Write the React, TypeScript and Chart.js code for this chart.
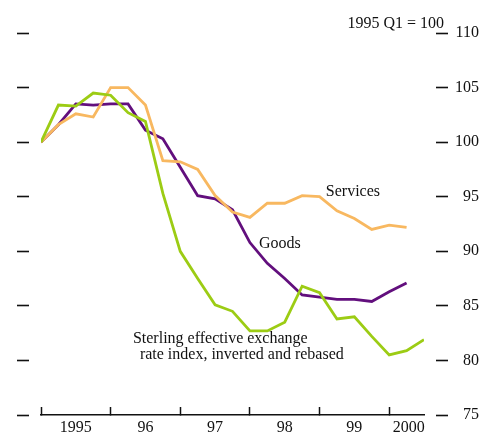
import React, { useEffect, useRef } from "react";
import { Chart, registerables } from "chart.js";

Chart.register(...registerables);

const quarters = [
  "1995 Q1", "1995 Q2", "1995 Q3", "1995 Q4",
  "1996 Q1", "1996 Q2", "1996 Q3", "1996 Q4",
  "1997 Q1", "1997 Q2", "1997 Q3", "1997 Q4",
  "1998 Q1", "1998 Q2", "1998 Q3", "1998 Q4",
  "1999 Q1", "1999 Q2", "1999 Q3", "1999 Q4",
  "2000 Q1", "2000 Q2", "2000 Q3",
];

const goods = [100, 101.6, 103.5, 103.4, 103.5, 103.5, 101.1, 100.3, 97.7, 95.1, 94.8, 93.8, 90.8, 88.9, 87.5, 86.0, 85.8, 85.6, 85.6, 85.4, 86.3, 87.1];
const services = [100, 101.6, 102.6, 102.3, 105.0, 105.0, 103.4, 98.3, 98.2, 97.5, 95.1, 93.6, 93.1, 94.4, 94.4, 95.1, 95.0, 93.7, 93.0, 92.0, 92.4, 92.2];
const sterling = [100, 103.4, 103.3, 104.5, 104.3, 102.7, 101.9, 95.3, 90.0, 87.5, 85.1, 84.5, 82.7, 82.7, 83.5, 86.8, 86.2, 83.8, 84.0, 82.2, 80.5, 80.9, 81.9];

const yearBoundaries = [1995, 1996, 1997, 1998, 1999, 2000];
const yearLabels = ["1995", "96", "97", "98", "99", "2000"];
const yearLabelPositions = [1995.5, 1996.5, 1997.5, 1998.5, 1999.5, 2000.28];
const yTicks = [75, 80, 85, 90, 95, 100, 105, 110];

const FONT = "'Liberation Serif', 'Times New Roman', serif";
const PURPLE = "#620f7d";
const ORANGE = "#f8b860";
const GREEN = "#9ccc14";

const qToX = (q: string) => {
  const [y, qq] = q.split(" Q");
  return Number(y) + (Number(qq) - 1) / 4;
};
const toPoints = (vals: number[]) => vals.map((v, i) => ({ x: qToX(quarters[i]), y: v }));

const annotations = [
  { text: "Services", x: 1999.09, y: 95.46 },
  { text: "Goods", x: 1998.13, y: 90.67 },
  { text: "Sterling effective exchange", x: 1996.32, y: 81.96 },
  { text: "rate index, inverted and rebased", x: 1996.42, y: 80.5 },
];

const annotationPlugin = {
  id: "annots",
  afterDatasetsDraw(chart: any) {
    const { ctx, scales } = chart;
    const xs = scales.x;
    const ys = scales.y;
    ctx.save();
    ctx.font = `16px ${FONT}`;
    ctx.fillStyle = "#111";
    ctx.textBaseline = "middle";
    ctx.textAlign = "left";
    annotations.forEach((a) => {
      ctx.fillText(a.text, xs.getPixelForValue(a.x), ys.getPixelForValue(a.y));
    });
    ctx.textAlign = "right";
    ctx.textBaseline = "alphabetic";
    ctx.fillText("1995 Q1 = 100", chart.chartArea.right + 20, ys.getPixelForValue(110) - 5);
    ctx.restore();
  },
};

const isBoundary = (v: number) => yearBoundaries.some((b) => Math.abs(b - v) < 1e-6);

export default function App() {
  const ref = useRef<HTMLCanvasElement | null>(null);
  useEffect(() => {
    if (!ref.current) return;
    const chart = new Chart(ref.current, {
      type: "line",
      data: {
        datasets: [
          { label: "Sterling", data: toPoints(sterling), borderColor: GREEN, borderWidth: 2.8, pointRadius: 0, tension: 0, order: 1 },
          { label: "Services", data: toPoints(services), borderColor: ORANGE, borderWidth: 2.8, pointRadius: 0, tension: 0, order: 2 },
          { label: "Goods", data: toPoints(goods), borderColor: PURPLE, borderWidth: 2.8, pointRadius: 0, tension: 0, order: 3 },
        ],
      },
      options: {
        responsive: false,
        animation: false,
        layout: { padding: { left: 17, right: 0, top: 33, bottom: 0 } },
        plugins: { legend: { display: false }, tooltip: { enabled: false }, title: { display: false } },
        scales: {
          x: {
            type: "linear",
            position: "bottom",
            min: 1995,
            max: 2000.5,
            afterBuildTicks: (scale: any) => {
              const vals = [...yearBoundaries, ...yearLabelPositions].sort((a, b) => a - b);
              scale.ticks = vals.map((v) => ({ value: v }));
            },
            afterFit: (scale: any) => {
              scale.height = 19;
            },
            border: { display: true, color: "#111", width: 1.5 },
            grid: {
              drawOnChartArea: false,
              drawTicks: true,
              tickLength: -8,
              tickWidth: 1.5,
              color: (ctx: any) => (ctx.tick && isBoundary(ctx.tick.value) ? "#111" : "rgba(0,0,0,0)"),
              tickColor: (ctx: any) => (ctx.tick && isBoundary(ctx.tick.value) ? "#111" : "rgba(0,0,0,0)"),
            },
            ticks: {
              autoSkip: false,
              maxRotation: 0,
              padding: 11,
              color: "#111",
              font: { family: FONT, size: 16 },
              callback: (value: any) => {
                const idx = yearLabelPositions.findIndex((p) => Math.abs(p - Number(value)) < 1e-6);
                return idx >= 0 ? yearLabels[idx] : "";
              },
            },
          },
          y: {
            type: "linear",
            position: "right",
            min: 75,
            max: 110,
            afterBuildTicks: (scale: any) => {
              scale.ticks = yTicks.map((v) => ({ value: v }));
            },
            afterFit: (scale: any) => {
              scale.width = 55;
            },
            border: { display: false },
            grid: {
              drawOnChartArea: false,
              drawTicks: true,
              tickLength: 24,
              tickWidth: 1.6,
              tickColor: "#111",
              tickBorderDash: [12, 12],
              tickBorderDashOffset: 12,
            },
            ticks: {
              crossAlign: "far",
              padding: 3,
              color: "#111",
              font: { family: FONT, size: 16 },
            },
          },
          yL: {
            type: "linear",
            position: "left",
            min: 75,
            max: 110,
            afterBuildTicks: (scale: any) => {
              scale.ticks = yTicks.map((v) => ({ value: v }));
            },
            afterFit: (scale: any) => {
              scale.width = 24;
            },
            border: { display: false },
            grid: {
              drawOnChartArea: false,
              drawTicks: true,
              tickLength: 24,
              tickWidth: 1.6,
              tickColor: "#111",
              tickBorderDash: [12, 12],
              tickBorderDashOffset: 0,
            },
            ticks: { display: false },
          },
        },
      },
      plugins: [annotationPlugin],
    } as any);
    return () => chart.destroy();
  }, []);

  return (
    <div style={{ position: "fixed", left: 0, top: 0, width: 479, height: 434, background: "#fff" }}>
      <canvas ref={ref} width={479} height={434} style={{ display: "block" }} />
    </div>
  );
}
